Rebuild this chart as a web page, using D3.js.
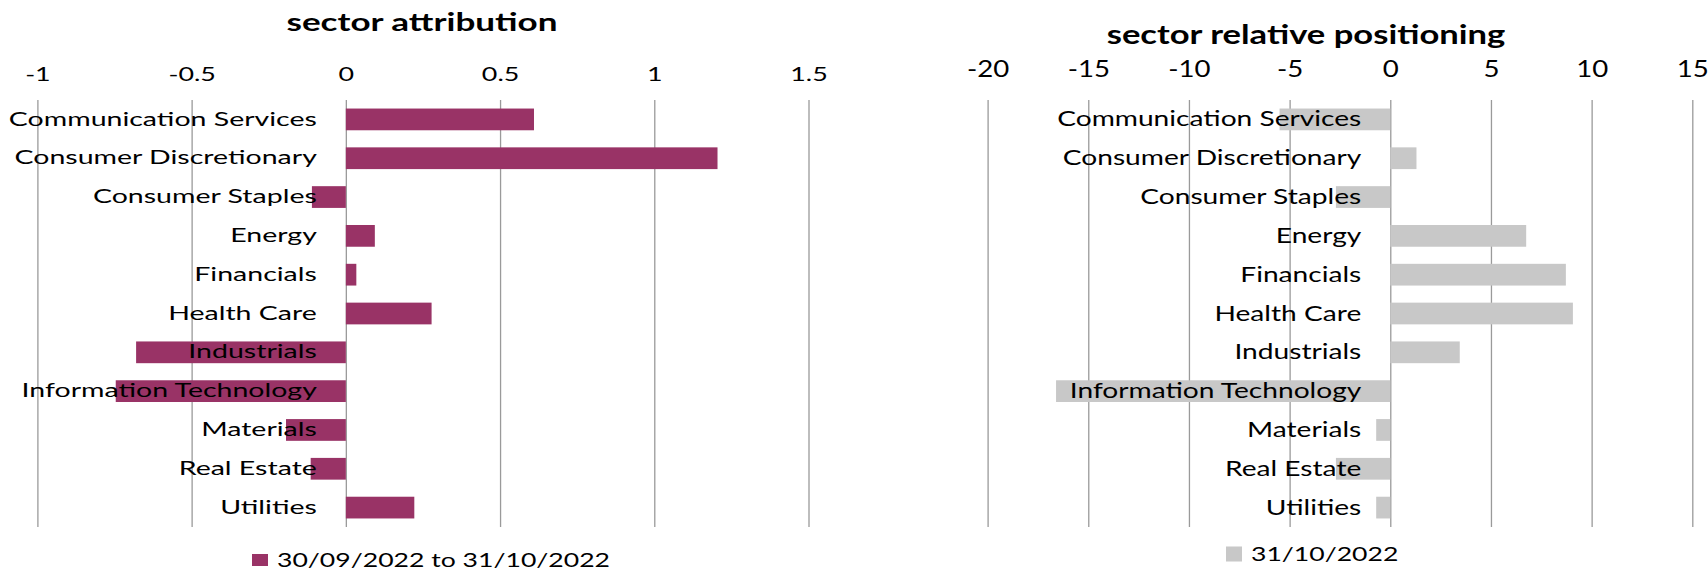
<!DOCTYPE html>
<html>
<head>
<meta charset="utf-8">
<script src="https://cdn.jsdelivr.net/npm/d3@7"></script>
<style>
	body { margin: 0; background: #fff; }
	svg { display: block; font-family: Lato, "Open Sans", sans-serif; }
</style>
</head>
<body>
<svg></svg>
<script>
const size = { w: 1708, h: 570 };

const sectors = [
	"Communication Services", "Consumer Discretionary", "Consumer Staples",
	"Energy", "Financials", "Health Care", "Industrials",
	"Information Technology", "Materials", "Real Estate", "Utilities",
];
// attribution, 30/09/2022 to 31/10/2022
const attribution = [0.61, 1.205, -0.11, 0.094, 0.034, 0.278, -0.68, -0.746, -0.194, -0.114, 0.222];
// relative positioning at 31/10/2022
const positioning = [-5.5, 1.3, -2.7, 6.75, 8.72, 9.07, 3.45, -16.6, -0.7, -2.7, -0.7];
const attributionTicks = [-1, -0.5, 0, 0.5, 1, 1.5];
const positioningTicks = [-20, -15, -10, -5, 0, 5, 10, 15];

const svg = d3.select("svg").attr("width", size.w).attr("height", size.h);

// the source image is stretched sideways, so text is too
function stretchText(sel, sx) {
	sel.attr("transform", `scale(${sx},1)`);
}

function drawPanel(opt) {
	const g = svg.append("g");
	const x = d3.scaleLinear().domain(opt.domain).range(opt.range);
	const y = d3.scaleBand().domain(sectors).range([100, 527])
		.paddingInner(0.44).paddingOuter(0.22);

	// grid + tick labels (plain hyphen minus like the source)
	const xAxis = g.append("g")
		.attr("transform", "translate(0,100)")
		.call(d3.axisTop(x).tickValues(opt.ticks).tickSize(-427).tickPadding(opt.tickPad).tickFormat(d => String(d)));
	xAxis.select(".domain").remove();
	xAxis.selectAll("line").attr("stroke", "#9a9a9a").attr("stroke-width", 1.3);
	xAxis.selectAll("text").attr("font-size", opt.tickFont).attr("fill", "#000")
		.attr("font-family", "Lato").call(stretchText, opt.tickSx);

	g.append("g").selectAll("rect")
		.data(opt.values)
		.join("rect")
		.attr("x", d => x(Math.min(0, d)))
		.attr("y", (d, i) => y(sectors[i]))
		.attr("width", d => Math.abs(x(d) - x(0)))
		.attr("height", y.bandwidth())
		.attr("fill", opt.color);

	const yAxis = g.append("g")
		.attr("transform", `translate(${x(0)},0)`)
		.call(d3.axisLeft(y).tickSize(0).tickPadding(0));
	yAxis.select(".domain").remove();
	yAxis.selectAll("text")
		.attr("font-size", opt.labelFont).attr("fill", "#000").attr("font-family", "Lato")
		.attr("x", -opt.labelPad / opt.labelSx)
		.call(stretchText, opt.labelSx);

	g.append("text")
		.attr("transform", `translate(${opt.title.x},${opt.title.y}) scale(${opt.title.sx},1)`)
		.attr("text-anchor", "middle")
		.attr("font-size", opt.title.size)
		.attr("font-weight", "bold")
		.text(opt.title.text);

	const leg = g.append("g").attr("transform", `translate(${opt.legend.x},${opt.legend.y})`);
	leg.append("rect").attr("x", 0).attr("y", -opt.legend.box[1] / 2)
		.attr("width", opt.legend.box[0]).attr("height", opt.legend.box[1]).attr("fill", opt.color);
	leg.append("text")
		.attr("transform", `translate(${opt.legend.gap},0) scale(${opt.legend.sx},1)`)
		.attr("dy", "0.36em")
		.attr("font-size", opt.legend.size)
		.text(opt.legend.text);
}

drawPanel({
	domain: [-1, 1.5], range: [37.4, 808.5], ticks: attributionTicks,
	values: attribution, color: "#993366",
	tickPad: 19, tickFont: 18.5, tickSx: 1.45,
	labelFont: 19, labelSx: 1.5, labelPad: 29,
	title: { text: "sector attribution", x: 422, y: 31, size: 24, sx: 1.46 },
	legend: { text: "30/09/2022 to 31/10/2022", x: 252, y: 560, box: [16, 12], gap: 25, size: 19, sx: 1.40 },
});

drawPanel({
	domain: [-20, 15], range: [987.6, 1692.3], ticks: positioningTicks,
	values: positioning, color: "#c8c8c8",
	tickPad: 23, tickFont: 23, tickSx: 1.2,
	labelFont: 22, labelSx: 1.28, labelPad: 29,
	title: { text: "sector relative positioning", x: 1306, y: 44, size: 26, sx: 1.33 },
	legend: { text: "31/10/2022", x: 1226, y: 554, box: [16, 15], gap: 25, size: 20, sx: 1.33 },
});
</script>
</body>
</html>
